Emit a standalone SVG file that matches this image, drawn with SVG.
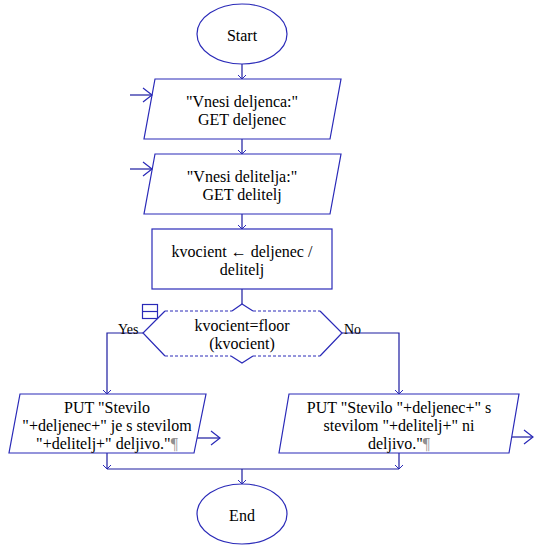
<svg xmlns="http://www.w3.org/2000/svg" width="538" height="547" viewBox="0 0 538 547">
<defs>
<style>
.s{fill:none;stroke:#2a2ab8;stroke-width:1.2}
.c{fill:none;stroke:#1c1ca0;stroke-width:1.2}
.d{fill:none;stroke:#2a2ab8;stroke-width:1;stroke-dasharray:3,2}
.p{fill:#909090}
</style>
<marker id="a" markerUnits="userSpaceOnUse" markerWidth="12" markerHeight="12" viewBox="-6 -6 12 12" refX="0" refY="0" orient="auto">
<path d="M-4,-4 L0,0 L-4,4" fill="none" stroke="#2a2ab8" stroke-width="1"/>
</marker>
<marker id="b" markerUnits="userSpaceOnUse" markerWidth="24" markerHeight="24" viewBox="-12 -12 24 24" refX="0" refY="0" orient="auto">
<path d="M-9,-7 L0,0 L-9,7" fill="none" stroke="#2a2ab8" stroke-width="1.2"/>
</marker>
</defs>
<g id="connectors">
<line class="c" x1="242" y1="64" x2="242" y2="79" marker-end="url(#a)"/>
<line class="c" x1="130" y1="95" x2="152" y2="95" marker-end="url(#b)"/>
<line class="c" x1="242" y1="139" x2="242" y2="154" marker-end="url(#a)"/>
<line class="c" x1="130" y1="169" x2="152" y2="169" marker-end="url(#b)"/>
<line class="c" x1="242" y1="214" x2="242" y2="229" marker-end="url(#a)"/>
<line class="c" x1="242" y1="289" x2="242" y2="304"/>
<polyline class="c" points="143,333 107,333 107,394" marker-end="url(#a)"/>
<polyline class="c" points="342,333 399,333 399,394" marker-end="url(#a)"/>
<line class="c" x1="197" y1="438" x2="220" y2="438" marker-end="url(#b)"/>
<line class="c" x1="512" y1="437" x2="533" y2="437" marker-end="url(#b)"/>
<line class="c" x1="107" y1="453" x2="107" y2="469" marker-end="url(#a)"/>
<line class="c" x1="399" y1="453" x2="399" y2="469" marker-end="url(#a)"/>
<line class="c" x1="107" y1="469" x2="399" y2="469"/>
<line class="c" x1="242" y1="469" x2="242" y2="484" marker-end="url(#a)"/>
<g font-family="'Liberation Serif', 'Times New Roman', 'DejaVu Serif', serif" font-size="14" fill="#000">
<text x="118" y="334">Yes</text>
<text x="344" y="334">No</text>
</g>
</g>
<g font-family="'Liberation Serif', 'Times New Roman', 'DejaVu Serif', serif" font-size="16" fill="#000" text-anchor="middle">
<g id="start">
<ellipse class="s" cx="242" cy="34" rx="45" ry="30"/>
<text x="242" y="41">Start</text>
</g>
<g id="input1">
<polygon class="s" points="155,79 341,79 330,139 144,139"/>
<text x="242" y="107">"Vnesi deljenca:"</text>
<text x="242" y="125">GET deljenec</text>
</g>
<g id="input2">
<polygon class="s" points="155,154 341,154 330,214 144,214"/>
<text x="242" y="182">"Vnesi delitelja:"</text>
<text x="242" y="200">GET delitelj</text>
</g>
<g id="assign">
<rect class="s" x="152" y="229" width="180" height="60"/>
<text x="242" y="257">kvocient ← deljenec /</text>
<text x="242" y="275">delitelj</text>
</g>
<g id="decision">
<polyline class="s" points="165,311 143,333 165,356"/>
<polyline class="s" points="320,311 342,333 320,356"/>
<line class="d" x1="165" y1="311" x2="232" y2="311"/>
<line class="d" x1="253" y1="311" x2="320" y2="311"/>
<line class="d" x1="165" y1="356" x2="231" y2="356"/>
<line class="d" x1="253" y1="356" x2="320" y2="356"/>
<polyline class="s" points="232,311 242,304 253,311"/>
<polyline class="s" points="231,356 242,363 253,356"/>
<rect class="s" x="142.5" y="304.5" width="15" height="14"/>
<line class="s" x1="142.5" y1="311.5" x2="157.5" y2="311.5"/>
<text x="242" y="331">kvocient=floor</text>
<text x="242" y="349">(kvocient)</text>
</g>
<g id="outYes">
<polygon class="s" points="20,394 206,394 194,453 9,453"/>
<text x="107" y="413">PUT "Stevilo</text>
<text x="107" y="431">"+deljenec+" je s stevilom</text>
<text x="107" y="449">"+delitelj+" deljivo."<tspan class="p">¶</tspan></text>
</g>
<g id="outNo">
<polygon class="s" points="289,394 519,394 509,453 279,453"/>
<text x="399" y="413">PUT "Stevilo "+deljenec+" s</text>
<text x="399" y="431">stevilom "+delitelj+" ni</text>
<text x="399" y="449">deljivo."<tspan class="p">¶</tspan></text>
</g>
<g id="end">
<ellipse class="s" cx="242" cy="514" rx="45" ry="30"/>
<text x="242" y="521">End</text>
</g>
</g>
</svg>
